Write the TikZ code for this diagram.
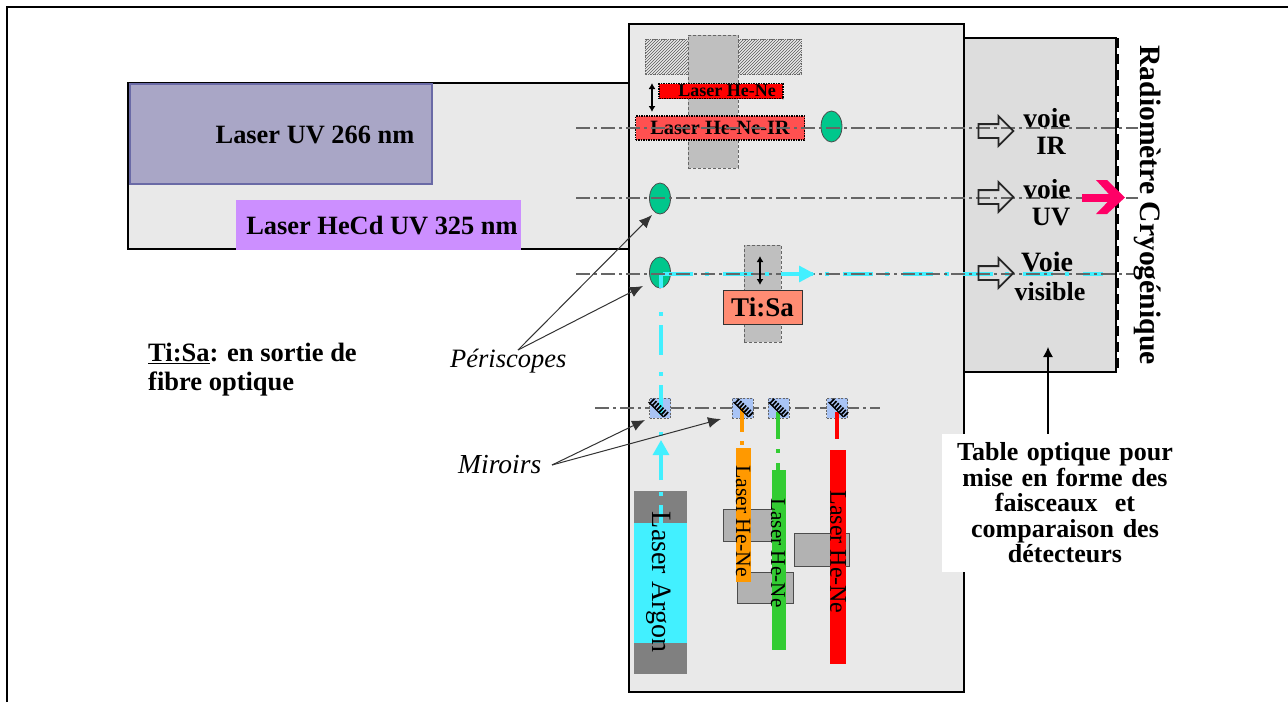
\documentclass[tikz,border=0pt]{standalone}
\usepackage{fontspec}
\setmainfont{Liberation Serif}
\usetikzlibrary{patterns,arrows.meta,shapes.arrows,shapes.geometric}
\definecolor{panel}{HTML}{E9E9E9}
\definecolor{tablegray}{HTML}{DDDDDD}
\definecolor{slidegray}{HTML}{BFBFBF}
\definecolor{lensgreen}{HTML}{00C78C}
\definecolor{beamcyan}{HTML}{42F0FF}
\definecolor{mirrorblue}{HTML}{A9C4F5}
\definecolor{tisa}{HTML}{FF8C73}
\definecolor{hered}{HTML}{FF5050}
\definecolor{pink}{HTML}{FF0066}
\definecolor{violet}{HTML}{CC8FFF}
\definecolor{uvbox}{HTML}{A9A6C6}
\definecolor{uvedge}{HTML}{6A6AA6}
\definecolor{he}{HTML}{FF9900}
\definecolor{hg}{HTML}{33CC33}
\tikzset{
  x=1pt,y=-1pt,
  txt/.style={font=\bfseries\fontsize{#1}{#1}\selectfont,inner sep=0pt,align=center,text=black},
  txt/.default=22,
  axisline/.style={draw=black!60,line width=1.2pt,dash pattern=on 14pt off 4pt on 3pt off 4pt},
  beam/.style={draw=beamcyan,line width=3.2pt},
  beamh/.style={beam,dash pattern=on 30pt off 12pt on 4pt off 14pt},
  beamv/.style={beam,dash pattern=on 4pt off 9pt on 30pt off 17pt},
  lens/.style={ellipse,draw=black!70,fill=lensgreen,line width=.8pt,minimum width=21pt,minimum height=31pt,inner sep=0pt},
  hollow/.style={single arrow,draw=black!85,line width=1.8pt,minimum height=35pt,minimum width=28pt,single arrow head extend=8pt,single arrow tip angle=90,inner sep=6pt},
  slide/.style={draw=black!60,fill=slidegray,dash pattern=on 3pt off 2pt,line width=.8pt},
  mirrorbase/.style={draw=black!60,fill=mirrorblue,dash pattern=on 2pt off 1.5pt,line width=.7pt,minimum width=21pt,minimum height=20pt,inner sep=0pt},
  mirrorface/.style={draw=black,line width=6pt,dash pattern=on 1.7pt off 1.5pt},
  mirrorback/.style={draw=black,line width=1.4pt},
  dotbox/.style={draw=black,densely dotted,line width=1.5pt},
  grayblock/.style={draw=black!70,fill=black!30,line width=1pt},
  point/.style={-{Latex[length=13pt,width=11pt]},draw=black!80,line width=1pt},
  updown/.style={{Latex[length=6pt,width=7pt]}-{Latex[length=6pt,width=7pt]},line width=1.4pt}
}
\begin{document}
\begin{tikzpicture}
\useasboundingbox (0,0) rectangle (1288,702);
\fill[white] (0,0) rectangle (1288,702);
\draw[line width=1.5pt] (7,702) -- (7,7) -- (1288,7);
% left laser panel
\draw[fill=panel,line width=1.2pt] (128,83) rectangle (640,249);
\node[draw=uvedge,fill=uvbox,line width=1.8pt,minimum width=302pt,minimum height=100pt,inner sep=0pt] (uv) at (281,134) {};
\node[txt=26.4] (uvt) at (315,135) {Laser UV 266 nm};
\node[fill=violet,minimum width=285pt,minimum height=50pt,inner sep=0pt] (hecd) at (378.5,225) {};
\node[txt=26.4] (hecdt) at (382,226) {Laser HeCd UV 325 nm};
% table right
\draw[fill=tablegray,line width=1.2pt] (960,38) -- (1116,38) -- (1116,372) -- (960,372) -- cycle;
\draw[line width=3.5pt,dash pattern=on 10pt off 6pt] (1117.5,38) -- (1117.5,374);
% centre panel
\draw[fill=panel,line width=1.8pt] (629,24) rectangle (964,692);
% hatched + slides
\fill[pattern=north east lines,pattern color=black!65] (645,39) rectangle (801,74);
\draw[black!60,densely dotted,line width=.8pt] (645,39) rectangle (801,74);
\node[slide,minimum width=50pt,minimum height=133pt,inner sep=0pt] (sl1) at (713,101.5) {};
\node[slide,minimum width=37pt,minimum height=97pt,inner sep=0pt] (sl2) at (762.5,293.5) {};
% He-Ne stacked
\node[dotbox,fill=red,minimum width=124pt,minimum height=15pt,inner sep=0pt,txt=18] (hn) at (721,91) {\hspace{12pt}Laser He-Ne};
\node[dotbox,fill=hered,minimum width=169pt,minimum height=24pt,inner sep=0pt,txt=20.3] (hnir) at (720,128) {Laser He-Ne-IR};
\coordinate (ua1) at (652,83);
\coordinate (ua2) at (652,112);
\draw[updown] (ua1) -- (ua2);
% axis lines
\coordinate (a1l) at (576,128); \coordinate (a1r) at (1138,128);
\coordinate (a2l) at (576,198); \coordinate (a2r) at (1138,198);
\coordinate (a3l) at (576,274); \coordinate (a3r) at (1134,274);
\coordinate (a4l) at (595,408); \coordinate (a4r) at (880,408);
% lenses
\node[lens] (l1) at (831.5,126.5) {};
\node[lens] (l2) at (660,198.5) {};
\node[lens] (l3) at (660,272.5) {};
% cyan beam
\coordinate (bcorner) at (661,274);
\coordinate (bend) at (1103,274);
\draw[beam] (bcorner) -- (661,288);
\draw[beamv] (661,312) -- (661,436);
\draw[beamh] (663,274) -- (bend);
\foreach \a/\b in {a1l/a1r,a2l/a2r,a3l/a3r,a4l/a4r} \draw[axisline] (\a) -- (\b);
% mirrors
\foreach \n/\x in {m1/660,m2/742.5,m3/778.5,m4/837}
  \node[mirrorbase] (\n) at (\x,408) {};
% beam arrows
\draw[beam] (661,385) -- (661,415);
\draw[beamcyan,line width=3.2pt,-{Triangle[length=15pt,width=16pt]}] (661,480) -- (661,440);
\draw[beamcyan,line width=3.2pt,-{Triangle[length=16pt,width=16pt]}] (781,274) -- (815,274);
% coloured beams
\draw[he,line width=3.5pt] (742,408) -- (742,432);
\fill[he] (740,441) rectangle (744,445);
\draw[hg,line width=3.5pt] (778,412) -- (778,439);
\fill[hg] (776,449) rectangle (780,453);
\draw[hg,line width=3.5pt] (778,463) -- (778,470);
\draw[red,line width=3.5pt] (837,412) -- (837,439);
% mirror faces
\foreach \x in {659.5,744.5,779.5,839.5}{
  \draw[mirrorface] (\x-8,408-7.5) -- (\x+8,408+7.5);
  \draw[mirrorback] (\x-11,408-6) -- (\x+4,408+9);
}
% Ti:Sa
\node[draw=black!80,fill=tisa,line width=1pt,minimum width=79pt,minimum height=34pt,inner sep=0pt,txt=27] (ts) at (762.5,307) {Ti:Sa};
\draw[updown] (760,256) -- (760,285);
% gray blocks
\node[grayblock,minimum width=56pt,minimum height=32pt,inner sep=0pt] (g1) at (751,525) {};
\node[grayblock,minimum width=56pt,minimum height=31pt,inner sep=0pt] (g2) at (765,587.5) {};
\node[grayblock,minimum width=55pt,minimum height=33pt,inner sep=0pt] (g3) at (821.5,549.5) {};
% laser bars
\fill[black!50] (634,491) rectangle (687,674);
\fill[beamcyan] (634,523) rectangle (687,643);
\draw[beam,dash pattern=on 4pt off 9pt on 30pt off 17pt] (661,492) -- (661,523);
\fill[he] (736,448) rectangle (751,582);
\fill[hg] (772,470) rectangle (786,650);
\fill[red] (830,450) rectangle (846,664);
\node[txt=28,rotate=-90] (tar) at (659,582) {\mdseries Laser Argon};
\node[txt=21.7,rotate=-90] (the1) at (743,521) {\mdseries Laser He-Ne};
\node[txt=21.2,rotate=-90] (the2) at (778,553) {\mdseries Laser He-Ne};
\node[txt=24,rotate=-90] (the3) at (838,552) {\mdseries Laser He-Ne};
% channels
\foreach \n/\y in {h1/131,h2/197,h3/273}
  \node[hollow] (\n) at (992.5,\y) {};
\node[txt=27.5] (v1) at (1047,118) {voie};
\node[txt=26.5] (v1b) at (1051,146) {IR};
\node[txt=27.5] (v2) at (1047,189) {voie};
\node[txt=26.5] (v2b) at (1051,217) {UV};
\node[txt=28] (v3) at (1047,262) {Voie};
\node[txt=26] (v3b) at (1050,292) {visible};
% pink arrow
\coordinate (p1) at (1082,197.5);
\coordinate (p2) at (1125,197.5);
\draw[pink,line width=8pt] (p1) -- (1116,197.5);
\fill[pink] (1096,180) -- (1107,180) -- (p2) -- (1107,214) -- (1096,214) -- (1112,197.5) -- cycle;
% radiometre
\node[txt=29.6,rotate=-90] (rad) at (1148,205) {Radiomètre Cryogénique};
% table text
\node[fill=white,minimum width=228pt,minimum height=138pt,inner sep=0pt] (tb) at (1056,503) {};
\node[txt=26,text width=240pt] (tt) at (1065,503) {Table optique pour\\[-.5pt]mise en forme des\\[-.5pt]faisceaux\ \ et\\[-.5pt]comparaison des\\[-.5pt]détecteurs};
\coordinate (tarrow) at (1048,347);
\draw[-{Latex[length=10pt,width=10pt]},line width=1.2pt] (tb.north -| tarrow) -- (tarrow);
% left text
\node[txt=26.5,align=left,anchor=west] (tsn) at (148,353) {\underline{Ti:Sa}: en sortie de};
\node[txt=26.5,align=left,anchor=west] (tsn2) at (148,384) {fibre optique};
\node[txt=26.5,anchor=west] (per) at (450,361) {\mdseries\itshape Périscopes};
\node[txt=27.5,anchor=west] (mir) at (458,465) {\mdseries\itshape Miroirs};
% pointers
\coordinate (pa) at (518,350);
\draw[point] (pa) -- (652,215);
\draw[point] (pa) -- (643,286);
\coordinate (ma) at (552,465);
\draw[point] (ma) -- (645,420);
\draw[point] (ma) -- (721,419);
\end{tikzpicture}
\end{document}
